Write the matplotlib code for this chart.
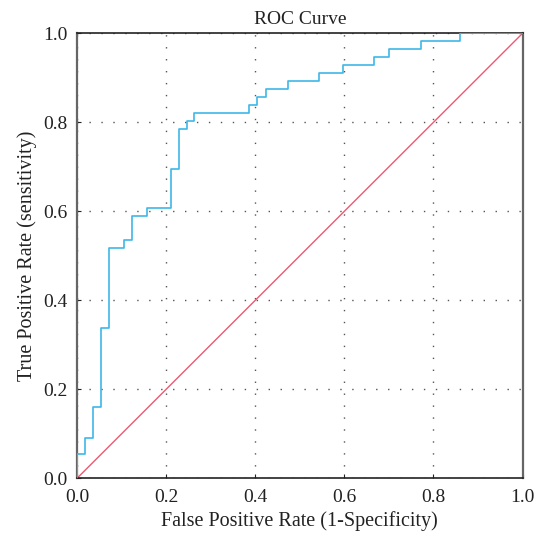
import matplotlib.pyplot as plt
import numpy as np

# ROC corner points (steps: vertical first, then horizontal)
fpr = [0.0, 0.018, 0.035, 0.053, 0.071, 0.105, 0.124, 0.158, 0.210, 0.229, 0.246,
       0.262, 0.386, 0.404, 0.423, 0.474, 0.544, 0.597, 0.667, 0.701, 0.771, 0.859, 1.0]
tpr = [0.0, 0.054, 0.090, 0.161, 0.338, 0.517, 0.536, 0.589, 0.607, 0.696, 0.785,
       0.804, 0.822, 0.839, 0.856, 0.874, 0.892, 0.911, 0.929, 0.946, 0.965, 0.982, 1.0]
ref_line = [0.0, 1.0]
ticks = [0.0, 0.2, 0.4, 0.6, 0.8, 1.0]

plt.rcParams['font.family'] = ['Liberation Serif', 'DejaVu Serif']

fig = plt.figure(figsize=(5.36, 5.37), dpi=100)
ax = fig.add_axes([0.1437, 0.1093, 0.8313, 0.8287])

ax.plot(fpr, tpr, drawstyle='steps-pre', color='#3db8e8', lw=1.2, zorder=3)
ax.plot(ref_line, ref_line, color='#ea5a74', lw=1.0, zorder=2)

ax.set_xlim(0, 1)
ax.set_ylim(0, 1)
ax.set_xticks(ticks)
ax.set_yticks(ticks)
ax.set_xticklabels(["%.1f" % t for t in ticks])
ax.set_yticklabels(["%.1f" % t for t in ticks])
ax.tick_params(direction='in', length=3, width=0.8, labelsize=14, colors='#222222')
ax.tick_params(axis='x', pad=7.5)
ax.tick_params(axis='y', pad=7)
ax.grid(True, color='#555555', linestyle=(0, (1, 7.6)), lw=1.0)

for s in ['top', 'bottom']:
    ax.spines[s].set_color('#222222')
    ax.spines[s].set_linewidth(1.2)
for s in ['left', 'right']:
    ax.spines[s].set_color('#666666')
    ax.spines[s].set_linewidth(1.6)

ax.set_title("ROC Curve", fontsize=14, pad=7, color='#222222')
ax.set_xlabel("False Positive Rate (1-Specificity)", fontsize=14.5, labelpad=4, color='#222222')
ax.set_ylabel("True Positive Rate (sensitivity)", fontsize=14.5, labelpad=4, color='#222222')

fig.savefig("out.png", dpi=100)
